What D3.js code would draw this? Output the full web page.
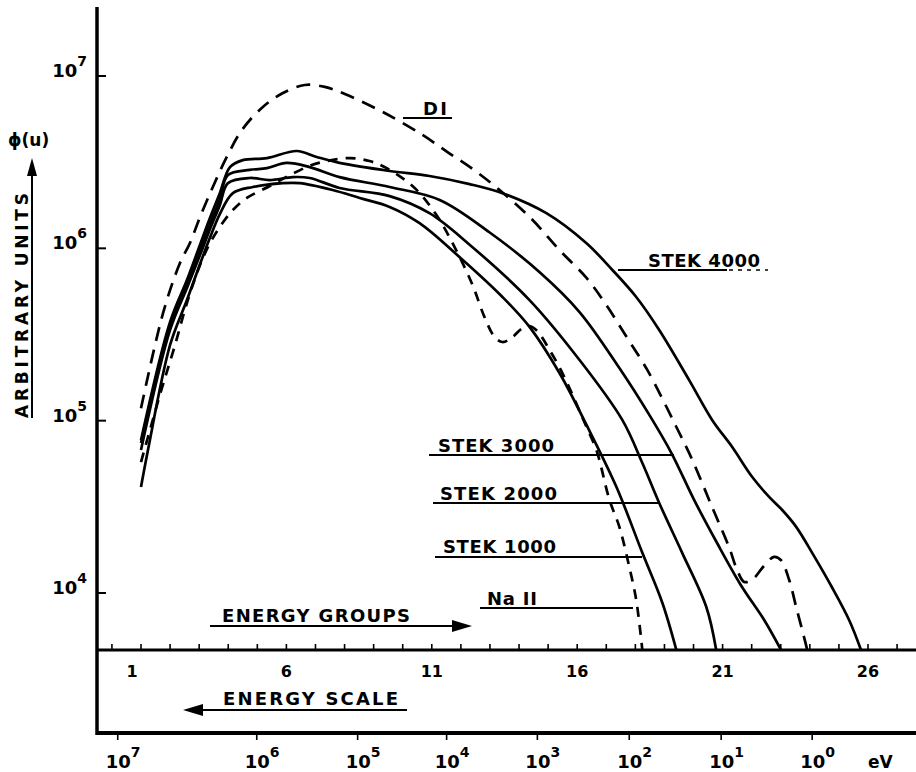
<!DOCTYPE html>
<meta charset="utf-8">
<script src="https://d3js.org/d3.v7.min.js"></script>
<style>
  body { margin: 0; background: #fff; }
  text { font-family: "DejaVu Sans", sans-serif; font-weight: bold; fill: #000; }
</style>
<body>
<div id="chart"></div>
<script>

// flux per unit lethargy (x = energy group, y = arbitrary units)
var stek4000G = [1, 2, 2.58, 3.03, 3.37, 3.71, 4.06, 4.5, 5.33, 6.36, 7.04, 7.83, 9.55, 10.92, 12.3, 13.43, 14.94, 16.32, 17.21, 18.03, 18.82, 19.85, 20.64, 21.33, 22.02, 22.6, 23.05, 23.53, 24.08, 24.76, 25.35, 25.76];
var stek4000V = [7.7e4, 3.74e5, 6.55e5, 1.05e6, 1.5e6, 2.09e6, 2.96e6, 3.25e6, 3.34e6, 3.67e6, 3.39e6, 3.13e6, 2.81e6, 2.63e6, 2.36e6, 2.09e6, 1.6e6, 1.07e6, 7.49e5, 5.22e5, 3.36e5, 1.72e5, 1.01e5, 7.03e4, 4.71e4, 3.61e4, 3.03e4, 2.42e4, 1.71e4, 1.08e4, 6.97e3, 4.67e3];

var stek3000G = [1, 2, 2.58, 3.03, 3.37, 3.71, 3.99, 4.74, 5.33, 6.01, 6.8, 7.83, 9.55, 11.27, 12.98, 14.7, 16.08, 17.45, 18.48, 19.24, 20.02, 20.81, 21.63, 22.43, 23.01];
var stek3000V = [7.42e4, 3.59e5, 6.29e5, 9.78e5, 1.38e6, 1.93e6, 2.66e6, 2.85e6, 2.92e6, 3.13e6, 2.96e6, 2.59e6, 2.27e6, 1.91e6, 1.24e6, 7.29e5, 4.27e5, 2.02e5, 1.08e5, 6.49e4, 3.47e4, 1.95e4, 1.11e4, 6.97e3, 4.67e3];

var stek2000G = [1, 2, 2.58, 3.03, 3.37, 3.71, 3.99, 4.74, 5.43, 6.22, 6.8, 7.83, 9.55, 10.92, 12.3, 14.36, 16.08, 17.55, 18.24, 18.82, 19.61, 20.44, 20.78];
var stek2000V = [6.76e4, 3.36e5, 5.89e5, 9.14e5, 1.29e6, 1.78e6, 2.39e6, 2.56e6, 2.49e6, 2.59e6, 2.56e6, 2.24e6, 2.01e6, 1.6e6, 1.05e6, 5.01e5, 2.25e5, 1.01e5, 5.68e4, 3.33e4, 1.71e4, 8.29e3, 4.67e3];

var stek1000G = [1, 1.24, 2, 2.58, 3.03, 3.37, 3.71, 4.16, 4.85, 5.88, 6.46, 7.59, 8.52, 9.55, 10.58, 11.95, 13.43, 14.36, 15.39, 16.32, 17.35, 18.24, 18.93, 19.41];
var stek1000V = [4.12e4, 6.76e4, 2.75e5, 5.01e5, 8.11e5, 1.15e6, 1.58e6, 2.09e6, 2.27e6, 2.39e6, 2.39e6, 2.18e6, 1.96e6, 1.74e6, 1.4e6, 8.91e5, 5.22e5, 3.5e5, 1.89e5, 9.44e4, 4.12e4, 1.71e4, 8.75e3, 4.67e3];

var diG = [1, 1.76, 2.34, 2.68, 3.03, 3.47, 3.95, 4.47, 5.19, 5.88, 6.63, 7.32, 8.01, 9.38, 10.68, 11.54, 12.4, 13.33, 14.43, 15.39, 16.32, 17.0, 17.72, 18.41, 19.41, 19.96, 20.64, 21.22, 21.5, 21.74, 22.01, 22.43, 22.77, 23.01, 23.29, 23.53, 23.8, 23.91];
var diV = [1.18e5, 4.22e5, 8.22e5, 1.07e6, 1.52e6, 2.27e6, 3.39e6, 4.86e6, 6.61e6, 7.97e6, 8.87e6, 8.64e6, 7.86e6, 6.1e6, 4.55e6, 3.62e6, 2.89e6, 2.18e6, 1.48e6, 9.78e5, 6.73e5, 4.69e5, 3.02e5, 1.97e5, 9.19e4, 5.91e4, 3.15e4, 1.85e4, 1.36e4, 1.16e4, 1.19e4, 1.44e4, 1.62e4, 1.55e4, 1.19e4, 8.29e3, 5.55e3, 4.67e3];

var naG = [1, 1.65, 2.17, 2.61, 3.03, 3.37, 3.71, 4.16, 4.64, 5.43, 6.12, 6.8, 7.39, 8.18, 8.86, 9.45, 10.41, 11.16, 11.78, 12.4, 12.81, 13.16, 13.43, 13.74, 14.08, 14.36, 14.63, 15.05, 15.49, 16.32, 16.66, 17.11, 17.45, 17.79, 18.03, 18.24];
var naV = [5.75e4, 1.41e5, 2.75e5, 5.01e5, 8.01e5, 1.07e6, 1.33e6, 1.67e6, 1.96e6, 2.3e6, 2.66e6, 3.01e6, 3.21e6, 3.34e6, 3.21e6, 2.92e6, 2.24e6, 1.56e6, 1.02e6, 6.13e5, 4.0e5, 3.06e5, 2.86e5, 3.02e5, 3.4e5, 3.54e5, 3.31e5, 2.57e5, 1.89e5, 9.19e4, 6.76e4, 3.47e4, 2.42e4, 1.42e4, 9.11e3, 4.67e3];

// axis ticks
var yTicks = [1e4, 1e5, 1e6, 1e7];
var yTickExp = ["4", "5", "6", "7"];
var groupLabels = [1, 6, 11, 16, 21, 26];
var energyExp = ["7", "6", "5", "4", "3", "2", "1", "0"];
var energyGroup = [0.2, 4.98, 8.45, 11.51, 14.63, 17.79, 20.95, 24.08];

var width = 916, height = 772;
var leftX = 97, groupAxisY = 650, scaleAxisY = 733;

var svg = d3.select("#chart")
  .append("svg")
    .attr("width", width)
    .attr("height", height);

var x = d3.scaleLinear()
  .domain([1, 26])
  .range([141, 868]);

var y = d3.scaleLog()
  .domain([1e4, 1e7])
  .range([593, 76]);

svg.append("clipPath")
    .attr("id", "plotArea")
  .append("rect")
    .attr("x", leftX)
    .attr("y", 0)
    .attr("width", width - leftX)
    .attr("height", groupAxisY);

// curves
var series = [
  {g: stek4000G, v: stek4000V, dash: null},
  {g: stek3000G, v: stek3000V, dash: null},
  {g: stek2000G, v: stek2000V, dash: null},
  {g: stek1000G, v: stek1000V, dash: null},
  {g: diG, v: diV, dash: "14,9"},
  {g: naG, v: naV, dash: "10,8"}
];

var line = d3.line()
  .x(function(d) { return x(d[0]); })
  .y(function(d) { return y(d[1]); })
  .curve(d3.curveCatmullRom.alpha(0.5));

series.forEach(function(s) {
  svg.append("path")
    .datum(d3.zip(s.g, s.v))
    .attr("d", line)
    .attr("fill", "none")
    .attr("stroke", "#000")
    .attr("stroke-width", 2.7)
    .attr("stroke-dasharray", s.dash)
    .attr("clip-path", "url(#plotArea)");
});

// frame: vertical axis, group axis, energy scale line
svg.append("line")
  .attr("x1", leftX).attr("x2", leftX)
  .attr("y1", 7).attr("y2", scaleAxisY + 2)
  .attr("stroke", "#000").attr("stroke-width", 3.5);

svg.append("line")
  .attr("x1", leftX).attr("x2", width)
  .attr("y1", groupAxisY).attr("y2", groupAxisY)
  .attr("stroke", "#000").attr("stroke-width", 3);

svg.append("line")
  .attr("x1", leftX).attr("x2", width)
  .attr("y1", scaleAxisY).attr("y2", scaleAxisY)
  .attr("stroke", "#000").attr("stroke-width", 4);

// y ticks
svg.selectAll(".ytick")
  .data(yTicks)
  .enter()
  .append("line")
    .attr("x1", leftX).attr("x2", leftX + 9)
    .attr("y1", function(d) { return y(d); })
    .attr("y2", function(d) { return y(d); })
    .attr("stroke", "#000").attr("stroke-width", 2);

yTicks.forEach(function(d, i) {
  var t = svg.append("text")
    .attr("x", 87)
    .attr("y", y(d) + 1)
    .attr("text-anchor", "end")
    .style("font-size", "18px");
  t.append("tspan").text("10");
  t.append("tspan").attr("dy", -11).style("font-size", "14px").text(yTickExp[i]);
});

// group ticks and labels
svg.selectAll(".gtick")
  .data(d3.range(0, 28))
  .enter()
  .append("line")
    .attr("x1", function(d) { return x(d); })
    .attr("x2", function(d) { return x(d); })
    .attr("y1", groupAxisY)
    .attr("y2", groupAxisY - 6)
    .attr("stroke", "#000").attr("stroke-width", 1.6);

svg.selectAll(".glabel")
  .data(groupLabels)
  .enter()
  .append("text")
    .attr("x", function(d) { return d == 1 ? x(d) - 9 : x(d); })
    .attr("y", 677)
    .attr("text-anchor", "middle")
    .style("font-size", "16px")
    .text(function(d) { return d; });

// energy scale ticks and labels
svg.selectAll(".etick")
  .data(energyGroup)
  .enter()
  .append("line")
    .attr("x1", function(d) { return x(d); })
    .attr("x2", function(d) { return x(d); })
    .attr("y1", scaleAxisY)
    .attr("y2", scaleAxisY + 7)
    .attr("stroke", "#000").attr("stroke-width", 1.6);

energyGroup.forEach(function(d, i) {
  var t = svg.append("text")
    .attr("x", x(d) - 12)
    .attr("y", 768)
    .style("font-size", "18px");
  t.append("tspan").text("10");
  t.append("tspan").attr("dy", -11).style("font-size", "14px").text(energyExp[i]);
});

svg.append("text")
  .attr("x", 868).attr("y", 768)
  .style("font-size", "17px")
  .text("eV");

// axis captions
svg.append("text")
  .attr("x", 222).attr("y", 622)
  .attr("textLength", 188)
  .style("font-size", "18px")
  .text("ENERGY GROUPS");
svg.append("line")
  .attr("x1", 210).attr("x2", 456)
  .attr("y1", 626).attr("y2", 626)
  .attr("stroke", "#000").attr("stroke-width", 2);
svg.append("path")
  .attr("d", "M472,626 L452,620 L452,632 Z")
  .attr("fill", "#000");

svg.append("text")
  .attr("x", 223).attr("y", 705)
  .attr("textLength", 175)
  .style("font-size", "18px")
  .text("ENERGY SCALE");
svg.append("line")
  .attr("x1", 200).attr("x2", 407)
  .attr("y1", 710).attr("y2", 710)
  .attr("stroke", "#000").attr("stroke-width", 2);
svg.append("path")
  .attr("d", "M183,710 L203,704 L203,716 Z")
  .attr("fill", "#000");

svg.append("text")
  .attr("transform", "translate(28,418) rotate(-90)")
  .attr("textLength", 225)
  .style("font-size", "17px")
  .text("ARBITRARY UNITS");
svg.append("line")
  .attr("x1", 32).attr("x2", 32)
  .attr("y1", 418).attr("y2", 172)
  .attr("stroke", "#000").attr("stroke-width", 2);
svg.append("path")
  .attr("d", "M32,158 L27,176 L37,176 Z")
  .attr("fill", "#000");
svg.append("text")
  .attr("x", 8).attr("y", 146)
  .style("font-size", "17px")
  .text("ϕ(u)");

// curve labels with leader lines
var labels = [
  {text: "DI", x: 423, y: 115, len: 24, l1: 403, l2: 452, ly: 118},
  {text: "STEK 4000", x: 648, y: 267, len: 112, l1: 618, l2: 727, ly: 270},
  {text: "STEK 3000", x: 438, y: 452, len: 116, l1: 429, l2: 674, ly: 455},
  {text: "STEK 2000", x: 440, y: 500, len: 117, l1: 433, l2: 659, ly: 503},
  {text: "STEK 1000", x: 443, y: 553, len: 113, l1: 435, l2: 642, ly: 557},
  {text: "Na II", x: 487, y: 605, len: 50, l1: 480, l2: 633, ly: 608}
];

labels.forEach(function(d) {
  svg.append("text")
    .attr("x", d.x).attr("y", d.y)
    .attr("textLength", d.len)
    .style("font-size", "18px")
    .text(d.text);
  svg.append("line")
    .attr("x1", d.l1).attr("x2", d.l2)
    .attr("y1", d.ly).attr("y2", d.ly)
    .attr("stroke", "#000").attr("stroke-width", 1.8);
});

svg.append("line")
  .attr("x1", 729).attr("x2", 768)
  .attr("y1", 270).attr("y2", 270)
  .attr("stroke", "#000").attr("stroke-width", 1.5)
  .attr("stroke-dasharray", "4,5");

</script>
</body>
